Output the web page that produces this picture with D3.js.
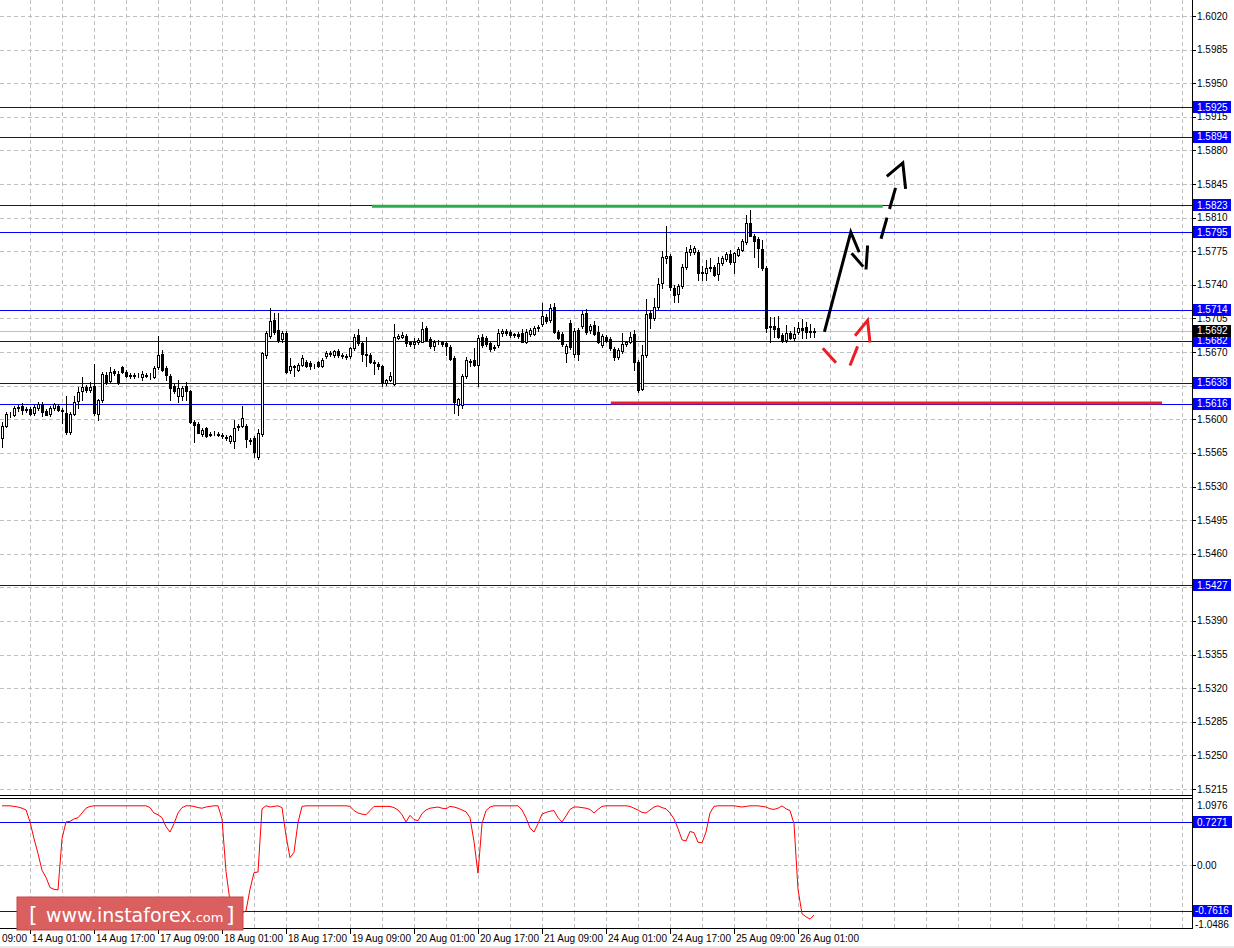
<!DOCTYPE html>
<html><head><meta charset="utf-8">
<script src="https://cdn.jsdelivr.net/npm/d3@7"></script>
<style>html,body{margin:0;padding:0;background:#fff;overflow:hidden}</style>
</head><body><svg id="c" width="1234" height="948"></svg>
<script>
// ---------- DATA (H1 candles) ----------
const open = [
1.5581,1.5593,1.5605,1.5604,1.5612,1.5614,1.5610,1.5611,1.5607,1.5612,
1.5616,1.5609,1.5606,1.5612,1.5614,1.5610,1.5607,1.5587,1.5606,1.5619,
1.5629,1.5634,1.5631,1.5635,1.5606,1.5620,1.5646,1.5640,1.5650,1.5647,
1.5654,1.5649,1.5646,1.5645,1.5646,1.5644,1.5646,1.5645,1.5644,1.5654,
1.5668,1.5653,1.5645,1.5635,1.5624,1.5624,1.5635,1.5629,1.5597,1.5595,
1.5585,1.5591,1.5585,1.5586,1.5585,1.5584,1.5582,1.5577,1.5577,1.5592,
1.5593,1.5593,1.5578,1.5581,1.5561,1.5585,1.5667,1.5687,1.5703,1.5693,
1.5684,1.5690,1.5651,1.5654,1.5651,1.5657,1.5660,1.5659,1.5656,1.5660,
1.5656,1.5666,1.5669,1.5667,1.5671,1.5667,1.5666,1.5666,1.5674,1.5688,
1.5679,1.5668,1.5667,1.5660,1.5658,1.5655,1.5638,1.5641,1.5637,1.5685,
1.5686,1.5687,1.5680,1.5678,1.5680,1.5681,1.5695,1.5684,1.5676,1.5681,
1.5680,1.5679,1.5675,1.5664,1.5615,1.5615,1.5645,1.5660,1.5662,1.5657,
1.5686,1.5685,1.5679,1.5675,1.5677,1.5690,1.5692,1.5691,1.5688,1.5689,
1.5690,1.5681,1.5689,1.5689,1.5695,1.5699,1.5707,1.5703,1.5717,1.5691,
1.5689,1.5669,1.5700,1.5668,1.5693,1.5697,1.5711,1.5693,1.5698,1.5691,
1.5677,1.5686,1.5684,1.5673,1.5665,1.5671,1.5678,1.5680,1.5689,1.5660,
1.5632,1.5667,1.5711,1.5705,1.5717,1.5742,1.5768,1.5770,1.5737,1.5730,
1.5739,1.5759,1.5774,1.5774,1.5774,1.5753,1.5752,1.5758,1.5759,1.5751,
1.5763,1.5767,1.5772,1.5764,1.5771,1.5776,1.5785,1.5804,1.5791,1.5788,
1.5777,1.5758,1.5696,1.5697,1.5695,1.5688,1.5683,1.5690,1.5685,1.5691,
1.5695,1.5696,1.5692,1.5691];
const high = [
1.5597,1.5608,1.5608,1.5614,1.5615,1.5617,1.5613,1.5613,1.5615,1.5618,
1.5618,1.5611,1.5614,1.5617,1.5616,1.5612,1.5624,1.5608,1.5624,1.5634,
1.5644,1.5636,1.5639,1.5658,1.5621,1.5649,1.5649,1.5654,1.5652,1.5650,
1.5656,1.5651,1.5648,1.5648,1.5648,1.5650,1.5648,1.5648,1.5655,1.5687,
1.5672,1.5655,1.5647,1.5637,1.5641,1.5635,1.5639,1.5630,1.5599,1.5597,
1.5591,1.5592,1.5587,1.5588,1.5587,1.5586,1.5584,1.5584,1.5599,1.5595,
1.5614,1.5595,1.5581,1.5583,1.5590,1.5670,1.5692,1.5716,1.5711,1.5711,
1.5692,1.5692,1.5664,1.5657,1.5659,1.5667,1.5662,1.5661,1.5658,1.5661,
1.5664,1.5671,1.5671,1.5672,1.5673,1.5669,1.5668,1.5675,1.5689,1.5694,
1.5681,1.5686,1.5669,1.5662,1.5660,1.5657,1.5642,1.5649,1.5699,1.5689,
1.5691,1.5689,1.5681,1.5685,1.5685,1.5701,1.5697,1.5686,1.5683,1.5683,
1.5682,1.5681,1.5677,1.5666,1.5622,1.5647,1.5665,1.5663,1.5674,1.5688,
1.5689,1.5687,1.5681,1.5677,1.5694,1.5694,1.5694,1.5693,1.5690,1.5691,
1.5694,1.5694,1.5695,1.5697,1.5698,1.5721,1.5710,1.5720,1.5721,1.5693,
1.5691,1.5678,1.5703,1.5695,1.5695,1.5713,1.5715,1.5699,1.5702,1.5697,
1.5689,1.5688,1.5686,1.5675,1.5674,1.5690,1.5682,1.5691,1.5693,1.5662,
1.5677,1.5725,1.5714,1.5726,1.5747,1.5775,1.5801,1.5772,1.5740,1.5741,
1.5762,1.5779,1.5782,1.5780,1.5776,1.5760,1.5766,1.5768,1.5761,1.5769,
1.5770,1.5774,1.5776,1.5774,1.5779,1.5788,1.5813,1.5818,1.5793,1.5790,
1.5787,1.5760,1.5707,1.5707,1.5708,1.5690,1.5698,1.5692,1.5696,1.5701,
1.5704,1.5701,1.5699,1.5695];
const low = [
1.5571,1.5592,1.5602,1.5603,1.5609,1.5606,1.5608,1.5605,1.5605,1.5610,
1.5603,1.5604,1.5603,1.5610,1.5609,1.5596,1.5585,1.5585,1.5604,1.5612,
1.5620,1.5628,1.5628,1.5605,1.5599,1.5618,1.5637,1.5639,1.5646,1.5637,
1.5648,1.5644,1.5643,1.5643,1.5644,1.5641,1.5644,1.5642,1.5643,1.5652,
1.5650,1.5641,1.5620,1.5627,1.5618,1.5620,1.5620,1.5596,1.5576,1.5586,
1.5583,1.5582,1.5583,1.5584,1.5583,1.5581,1.5578,1.5575,1.5570,1.5589,
1.5592,1.5571,1.5574,1.5561,1.5559,1.5583,1.5664,1.5685,1.5689,1.5680,
1.5680,1.5648,1.5648,1.5645,1.5650,1.5655,1.5654,1.5652,1.5653,1.5654,
1.5654,1.5664,1.5666,1.5665,1.5665,1.5664,1.5663,1.5664,1.5672,1.5677,
1.5661,1.5656,1.5659,1.5647,1.5652,1.5635,1.5636,1.5640,1.5636,1.5684,
1.5685,1.5676,1.5676,1.5674,1.5678,1.5680,1.5682,1.5674,1.5672,1.5678,
1.5676,1.5667,1.5662,1.5607,1.5604,1.5612,1.5643,1.5655,1.5655,1.5635,
1.5675,1.5676,1.5671,1.5672,1.5675,1.5687,1.5688,1.5686,1.5686,1.5685,
1.5680,1.5679,1.5687,1.5688,1.5692,1.5697,1.5700,1.5701,1.5690,1.5684,
1.5676,1.5660,1.5673,1.5665,1.5662,1.5695,1.5689,1.5690,1.5688,1.5679,
1.5675,1.5681,1.5672,1.5662,1.5663,1.5669,1.5676,1.5679,1.5651,1.5628,
1.5631,1.5665,1.5695,1.5703,1.5715,1.5737,1.5763,1.5735,1.5722,1.5722,
1.5737,1.5757,1.5771,1.5772,1.5745,1.5745,1.5745,1.5754,1.5749,1.5745,
1.5761,1.5765,1.5762,1.5752,1.5770,1.5775,1.5783,1.5791,1.5769,1.5759,
1.5756,1.5691,1.5681,1.5686,1.5685,1.5680,1.5680,1.5684,1.5683,1.5689,
1.5685,1.5685,1.5686,1.5686];
const close = [
1.5593,1.5606,1.5604,1.5612,1.5613,1.5610,1.5611,1.5606,1.5613,1.5616,
1.5608,1.5605,1.5612,1.5616,1.5610,1.5609,1.5587,1.5606,1.5618,1.5628,
1.5634,1.5630,1.5634,1.5607,1.5620,1.5647,1.5639,1.5649,1.5648,1.5638,
1.5649,1.5645,1.5645,1.5646,1.5646,1.5647,1.5645,1.5645,1.5653,1.5667,
1.5651,1.5646,1.5633,1.5629,1.5633,1.5633,1.5629,1.5597,1.5594,1.5586,
1.5589,1.5583,1.5584,1.5586,1.5584,1.5583,1.5581,1.5583,1.5591,1.5593,
1.5601,1.5580,1.5577,1.5566,1.5586,1.5669,1.5690,1.5702,1.5691,1.5683,
1.5690,1.5649,1.5656,1.5655,1.5657,1.5664,1.5656,1.5655,1.5655,1.5656,
1.5662,1.5669,1.5668,1.5671,1.5667,1.5666,1.5665,1.5674,1.5686,1.5679,
1.5668,1.5667,1.5660,1.5659,1.5655,1.5638,1.5641,1.5645,1.5686,1.5687,
1.5688,1.5679,1.5678,1.5681,1.5683,1.5694,1.5683,1.5676,1.5681,1.5680,
1.5678,1.5676,1.5663,1.5618,1.5621,1.5645,1.5662,1.5661,1.5657,1.5685,
1.5677,1.5678,1.5673,1.5674,1.5690,1.5692,1.5690,1.5688,1.5689,1.5687,
1.5681,1.5691,1.5693,1.5695,1.5696,1.5708,1.5702,1.5716,1.5691,1.5685,
1.5678,1.5676,1.5675,1.5692,1.5668,1.5710,1.5691,1.5697,1.5689,1.5681,
1.5687,1.5682,1.5674,1.5665,1.5672,1.5678,1.5680,1.5686,1.5660,1.5631,
1.5667,1.5710,1.5705,1.5717,1.5741,1.5769,1.5770,1.5738,1.5729,1.5739,
1.5759,1.5774,1.5777,1.5778,1.5752,1.5752,1.5758,1.5759,1.5750,1.5763,
1.5768,1.5772,1.5764,1.5773,1.5777,1.5786,1.5804,1.5791,1.5786,1.5778,
1.5758,1.5695,1.5697,1.5694,1.5686,1.5682,1.5690,1.5685,1.5689,1.5695,
1.5693,1.5691,1.5691,1.5692];
const oscillator = [
1.00,1.00,1.00,0.99,0.98,0.96,0.93,0.73,0.45,0.20,
-0.08,-0.20,-0.37,-0.40,-0.41,0.45,0.73,0.74,0.78,0.80,
0.88,0.96,0.99,1.00,1.00,1.00,1.00,1.00,1.00,1.00,
1.00,1.00,1.00,1.00,1.00,1.00,1.00,0.97,0.88,0.85,
0.80,0.65,0.56,0.70,0.88,0.97,1.00,1.00,0.99,0.97,
0.96,0.98,0.99,1.00,1.00,0.78,-0.10,-0.60,-0.85,-0.84,
-0.80,-0.76,-0.40,-0.12,-0.11,0.95,1.00,0.98,0.99,1.00,
0.97,0.50,0.13,0.22,0.72,0.99,1.00,1.00,1.00,1.00,
1.00,1.00,1.00,1.00,1.00,1.00,1.00,0.99,0.92,0.88,
0.86,0.85,0.92,0.99,0.99,0.99,0.99,0.99,0.97,0.93,
0.85,0.73,0.84,0.77,0.75,0.87,0.93,0.96,0.97,0.98,
0.96,0.95,0.99,0.98,0.96,0.93,0.90,0.80,0.40,-0.13,
0.70,0.92,0.98,1.00,1.00,1.00,1.00,1.00,1.00,1.00,
0.93,0.80,0.63,0.56,0.70,0.86,0.89,0.91,0.92,0.80,
0.73,0.83,0.94,0.98,0.98,0.97,0.96,0.94,0.88,0.94,
0.99,1.00,1.00,1.00,1.00,1.00,1.00,0.99,0.96,0.93,
0.89,0.88,0.93,0.98,1.00,0.97,0.95,0.88,0.78,0.62,
0.43,0.41,0.57,0.55,0.39,0.38,0.56,0.88,0.99,1.00,
1.00,1.00,1.00,1.00,0.99,0.98,0.99,1.00,1.00,1.00,
0.99,0.98,0.95,0.94,0.96,1.00,0.95,0.92,0.70,-0.40,
-0.81,-0.86,-0.90,-0.83];

const priceTicks = ["1.6020","1.5985","1.5950","1.5915","1.5880","1.5845","1.5810","1.5775",
  "1.5740","1.5705","1.5670","1.5635","1.5600","1.5565","1.5530","1.5495","1.5460","1.5425",
  "1.5390","1.5355","1.5320","1.5285","1.5250","1.5215"];
const hiddenTickLabels = ["1.5635","1.5425"];
const priceLevels = [1.5925, 1.5894, 1.5823, 1.5795, 1.5714, 1.5682, 1.5638, 1.5616, 1.5427];
const lastPrice = 1.5692;
const oscTickLabels = ["1.0976","0.00","-1.0486"];
const oscLevels = [0.7271, -0.7616];
const timeLabels = ["13 Aug 09:00","14 Aug 01:00","14 Aug 17:00","17 Aug 09:00","18 Aug 01:00",
  "18 Aug 17:00","19 Aug 09:00","20 Aug 01:00","20 Aug 17:00","21 Aug 09:00","24 Aug 01:00",
  "24 Aug 17:00","25 Aug 09:00","26 Aug 01:00"];
const timeLabelBars = [-9,7,23,39,55,71,87,103,119,135,151,167,183,199];

// drawn annotations, in (bar index, price)
const greenLine = [[92.5,1.5822],[220.2,1.5822]];
const redLine = [[152.2,1.5617],[290,1.5617]];
const blackSolid = [[205.6,1.5691],[212.2,1.5795],[214.3,1.5774]];
const blackHeadA = [[212.4,1.5773],[215.3,1.5759]];
const blackHeadB = [[216.4,1.5781],[216.0,1.5756]];
const blackDashed = [[219.75,1.5788],[223.8,1.5847]];
const blackDashHead = [[221.2,1.5853],[225.2,1.5867],[225.9,1.5840]];
const redSeg1 = [[205.2,1.5674],[208.5,1.5659]];
const redSeg2 = [[212.0,1.5656],[213.9,1.5676]];
const redHead = [[213.25,1.5687],[216.4,1.5703],[217.0,1.5680]];

// ---------- DRAW ----------
const svg = d3.select("#c");
const W = 1234, plotR = 1192;
const mainTop = 0, mainBot = 795, oscTop = 798, oscBot = 928;
const FONT = "'Liberation Sans', Arial, sans-serif";

const x = d3.scaleLinear().domain([0, 203]).range([2, 814]);
const y = d3.scaleLinear().domain([1.5215, 1.6020]).range([789, 16]);
const yo = d3.scaleLinear().domain([-1.0486, 1.0976]).range([928, 800]);

svg.append("rect").attr("width", W).attr("height", 948).attr("fill", "#fff");
svg.append("rect").attr("x",0).attr("y",946).attr("width",W).attr("height",2).attr("fill","#e8e8e8");

const defs = svg.append("defs");
defs.append("clipPath").attr("id","mainClip").append("rect").attr("x",0).attr("y",mainTop).attr("width",plotR).attr("height",mainBot-mainTop);
defs.append("clipPath").attr("id","oscClip").append("rect").attr("x",0).attr("y",oscTop).attr("width",plotR).attr("height",oscBot-oscTop);

const gMain = svg.append("g").attr("clip-path","url(#mainClip)");
const gOsc = svg.append("g").attr("clip-path","url(#oscClip)");

// vertical gridlines every 8 bars
const gridBars = d3.range(-1, 300, 8);
[ [gMain, mainTop, mainBot], [gOsc, oscTop, oscBot] ].forEach(([g, t, b]) => {
  g.selectAll(null).data(gridBars).enter().append("line")
    .attr("x1", d => Math.round(x(d)) + 0.5).attr("x2", d => Math.round(x(d)) + 0.5)
    .attr("y1", t).attr("y2", b)
    .attr("stroke", "#c0c0c0").attr("stroke-dasharray", "4,3");
});
// horizontal gridlines
gMain.selectAll(null).data(priceTicks).enter().append("line")
  .attr("x1", 0).attr("x2", plotR)
  .attr("y1", d => Math.round(y(+d)) + 0.5).attr("y2", d => Math.round(y(+d)) + 0.5)
  .attr("stroke", "#c0c0c0").attr("stroke-dasharray", "4,3");
gOsc.append("line").attr("x1",0).attr("x2",plotR)
  .attr("y1", Math.round(yo(0))+0.5).attr("y2", Math.round(yo(0))+0.5)
  .attr("stroke","#c0c0c0").attr("stroke-dasharray","4,3");

// level lines
gMain.selectAll(null).data(priceLevels).enter().append("line")
  .attr("x1",0).attr("x2",plotR)
  .attr("y1", d => Math.round(y(d)) + 0.5).attr("y2", d => Math.round(y(d)) + 0.5)
  .attr("stroke","#0000ff");
gMain.append("line").attr("x1",0).attr("x2",plotR)
  .attr("y1", Math.round(y(lastPrice))+0.5).attr("y2", Math.round(y(lastPrice))+0.5)
  .attr("stroke","#c0c0c0");
gOsc.selectAll(null).data(oscLevels).enter().append("line")
  .attr("x1",0).attr("x2",plotR)
  .attr("y1", d => Math.round(yo(d)) + 0.5).attr("y2", d => Math.round(yo(d)) + 0.5)
  .attr("stroke","#0000ff");

// candles
const bars = open.map((o, i) => ({i, o, h: high[i], l: low[i], c: close[i]}));
const cg = gMain.append("g");
cg.selectAll(null).data(bars).enter().append("line")
  .attr("x1", d => Math.round(x(d.i)) + 0.5).attr("x2", d => Math.round(x(d.i)) + 0.5)
  .attr("y1", d => Math.round(y(d.h))).attr("y2", d => Math.round(y(d.l)) + 1)
  .attr("stroke", "#000");
cg.selectAll(null).data(bars).enter().append("rect")
  .attr("x", d => Math.round(x(d.i)) - 1 + 0.5)
  .attr("y", d => Math.round(y(Math.max(d.o, d.c))) + 0.5)
  .attr("width", 2)
  .attr("height", d => Math.max(0, Math.round(y(Math.min(d.o, d.c))) - Math.round(y(Math.max(d.o, d.c)))))
  .attr("fill", d => d.c >= d.o ? "#fff" : "#000")
  .attr("stroke", "#000");

// oscillator
gOsc.append("path").datum(oscillator)
  .attr("d", d3.line().x((d, i) => x(i)).y(d => yo(d)))
  .attr("fill","none").attr("stroke","#ff0000").attr("stroke-width",1);

// annotations
const ln = d3.line().x(d => x(d[0])).y(d => y(d[1]));
function ann(data, color, width, dash) {
  const p = gMain.append("path").datum(data).attr("d", ln)
    .attr("fill","none").attr("stroke",color).attr("stroke-width",width)
    .attr("stroke-linejoin","miter");
  if (dash) p.attr("stroke-dasharray", dash);
}
ann(greenLine, "#2eab4c", 3);
ann(redLine, "#e8222a", 3);
ann(blackSolid, "#000", 3);
ann(blackHeadA, "#000", 3);
ann(blackHeadB, "#000", 3);
ann(blackDashed, "#000", 3, "22,9");
ann(blackDashHead, "#000", 3);
ann(redSeg1, "#ee1c24", 3);
ann(redSeg2, "#ee1c24", 3);
ann(redHead, "#ee1c24", 3);

// frames
svg.append("line").attr("x1", plotR+0.5).attr("x2", plotR+0.5).attr("y1", 0).attr("y2", oscBot+1).attr("stroke","#000");
svg.append("line").attr("x1",0).attr("x2",plotR+1).attr("y1",mainBot+0.5).attr("y2",mainBot+0.5).attr("stroke","#000");
svg.append("line").attr("x1",0).attr("x2",plotR+1).attr("y1",oscTop+0.5).attr("y2",oscTop+0.5).attr("stroke","#000");
svg.append("line").attr("x1",0).attr("x2",plotR+1).attr("y1",oscBot+0.5).attr("y2",oscBot+0.5).attr("stroke","#000");

// right price axis
const ax = svg.append("g").attr("font-family", FONT).attr("font-size", "10px");
ax.selectAll(null).data(priceTicks).enter().append("line")
  .attr("x1", plotR).attr("x2", plotR+4)
  .attr("y1", d => Math.round(y(+d))+0.5).attr("y2", d => Math.round(y(+d))+0.5).attr("stroke","#000");
ax.selectAll(null).data(priceTicks.filter(t => !hiddenTickLabels.includes(t))).enter().append("text")
  .attr("x", 1197).attr("y", d => y(+d)).attr("dy","0.35em").attr("fill","#000").text(d => d);
function boxLabel(yy, txt, bg) {
  ax.append("rect").attr("x", 1193).attr("y", Math.round(yy) - 6).attr("width", 38).attr("height", 12).attr("fill", bg);
  ax.append("text").attr("x", 1197).attr("y", yy).attr("dy","0.35em").attr("fill","#fff").text(txt);
}
priceLevels.forEach(v => boxLabel(y(v), v.toFixed(4), "#0000ff"));
boxLabel(y(lastPrice), lastPrice.toFixed(4), "#000");

// oscillator axis
ax.append("text").attr("x",1197).attr("y", 805).attr("dy","0.35em").text(oscTickLabels[0]);
ax.append("line").attr("x1",plotR).attr("x2",plotR+4).attr("y1",Math.round(yo(0))+0.5).attr("y2",Math.round(yo(0))+0.5).attr("stroke","#000");
ax.append("text").attr("x",1197).attr("y", yo(0)).attr("dy","0.35em").text(oscTickLabels[1]);
ax.append("text").attr("x",1195).attr("y", 924).attr("dy","0.35em").text(oscTickLabels[2]);
oscLevels.forEach(v => {
  const yy = yo(v);
  const txt = v.toFixed(4);
  ax.append("rect").attr("x", 1193).attr("y", Math.round(yy) - 6).attr("width", 39).attr("height", 12).attr("fill", "#0000ff");
  ax.append("text").attr("x", v < 0 ? 1195 : 1197).attr("y", yy).attr("dy","0.35em").attr("fill","#fff").text(txt);
});

// time axis
const tx = svg.append("g").attr("font-family", FONT).attr("font-size","10px");
tx.selectAll(null).data(timeLabelBars).enter().append("line")
  .attr("x1", d => Math.round(x(d))+0.5).attr("x2", d => Math.round(x(d))+0.5)
  .attr("y1", oscBot+1).attr("y2", oscBot+6).attr("stroke","#000");
tx.selectAll(null).data(timeLabelBars).enter().append("text")
  .attr("x", d => x(d) + 2).attr("y", 942).attr("fill","#000")
  .text((d, i) => timeLabels[i]);

// logo
const logo = svg.append("g");
logo.append("rect").attr("x",17).attr("y",897).attr("width",226).attr("height",33)
  .attr("fill","#d9605f").attr("stroke","#c44a4a").attr("stroke-width",1);
const lt = logo.append("text").attr("y",922).attr("fill","#fff").attr("font-family","'DejaVu Sans', Verdana, sans-serif");
lt.append("tspan").attr("x",29).attr("font-size","22px").text("[");
lt.append("tspan").attr("x",46).attr("font-size","19px").text("www.instaforex");
lt.append("tspan").attr("font-size","13px").text(".com");
lt.append("tspan").attr("x",226).attr("font-size","22px").text("]");
</script></body></html>
